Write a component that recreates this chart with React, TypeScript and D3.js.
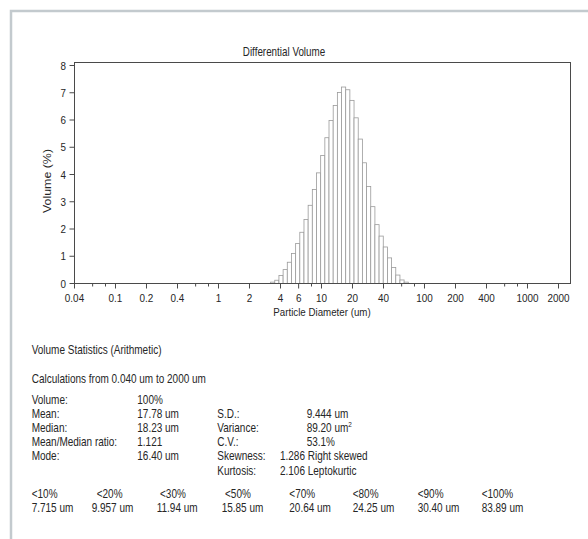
import React from "react";
import * as d3 from "d3";

const width = 588;
const height = 539;

// channel edges (um) of the occupied bins, and volume % per bin
const binEdges = [
  3.206, 3.519, 3.862, 4.241, 4.656, 5.111, 5.611, 6.159, 6.761, 7.421, 8.147,
  8.944, 9.819, 10.78, 11.83, 12.99, 14.26, 15.65, 17.18, 18.86, 20.7, 22.73,
  24.95, 27.39, 30.07, 33.01, 36.24, 39.78, 43.67, 47.94, 52.62, 57.77, 63.41,
  69.61,
];
const volumePct = [
  0.05, 0.12, 0.29, 0.51, 0.78, 1.1, 1.47, 1.88, 2.35, 2.87, 3.45, 4.06, 4.7,
  5.35, 5.98, 6.53, 7.01, 7.21, 7.11, 6.72, 6.08, 5.3, 4.43, 3.56, 2.82, 2.16,
  1.74, 1.34, 0.94, 0.59, 0.31, 0.13, 0.05,
];

const xTicksMajor = [0.04, 0.1, 0.2, 0.4, 1, 2, 4, 6, 10, 20, 40, 100, 200, 400, 1000, 2000];
const xTicksMinor = [0.06, 0.08, 0.6, 0.8, 8, 60, 80, 600, 800];
const yTicks = [0, 1, 2, 3, 4, 5, 6, 7, 8];

const leftLabels = ["Volume:", "Mean:", "Median:", "Mean/Median ratio:", "Mode:"];
const leftValues = ["100%", "17.78 um", "18.23 um", "1.121", "16.40 um"];
const rightLabels = ["S.D.:", "Variance:", "C.V.:", "Skewness:", "Kurtosis:"];
const rightValues = ["9.444 um", "89.20 um", "53.1%", "1.286 Right skewed", "2.106 Leptokurtic"];

const pctLabels = ["<10%", "<20%", "<30%", "<50%", "<70%", "<80%", "<90%", "<100%"];
const pctValues = ["7.715 um", "9.957 um", "11.94 um", "15.85 um", "20.64 um", "24.25 um", "30.40 um", "83.89 um"];
const pctLabelX = [31.7, 96.7, 160, 225, 289.3, 352.7, 417.7, 481.7];
const pctValueX = [31.7, 91.7, 156.7, 221.7, 289.3, 352.7, 417.7, 481.7];

const font = "'Liberation Sans', Arial, sans-serif";
const ink = "#262626";

// the scanned report has narrow lettering, so text is squeezed horizontally
const T = ({ x, y, size = 12.5, sx = 0.8, anchor = "start", children }: any) => (
  <text transform={`translate(${x},${y}) scale(${sx},1)`} fontSize={size} textAnchor={anchor} fill={ink}>
    {children}
  </text>
);

export default function App() {
  const left = 74.5, right = 570.5, top = 62.5, bottom = 283.5;
  const x = d3.scaleLog().domain([0.04, 2000]).range([left, 558.5]);
  const y = d3.scaleLinear().domain([0, 8]).range([bottom, 65.5]);

  const rowY = (i: number) => 403.6 + i * 14.2;

  return (
    <svg width={width} height={height} style={{ position: "absolute", left: 0, top: 0 }} fontFamily={font}>
      <rect x={0} y={0} width={width} height={height} fill="#fff" />
      {/* page border */}
      <path d={`M11,${height + 5} V11 H${width + 5}`} fill="none" stroke="#c3cace" strokeWidth={2.5} />

      <T x={284} y={56} size={12} sx={0.82} anchor="middle">Differential Volume</T>

      {/* bars */}
      <g>
        {volumePct.map((v, i) => (
          <rect key={i} x={x(binEdges[i])} y={y(v)} width={x(binEdges[i + 1]) - x(binEdges[i])}
            height={y(0) - y(v)} fill="#fff" stroke="#9a9a9a" strokeWidth={0.8} />
        ))}
      </g>

      {/* frame */}
      <rect x={left} y={top} width={right - left} height={bottom - top} fill="none" stroke="#4a4a4a" strokeWidth={1} />

      {/* y axis */}
      {yTicks.map((t) => (
        <g key={t}>
          <line x1={left - 5} x2={left} y1={y(t)} y2={y(t)} stroke="#4a4a4a" />
          <T x={66} y={y(t) + 4.2} size={11.6} sx={0.85} anchor="end">{t}</T>
        </g>
      ))}
      <text transform={`translate(51,181) scale(0.82,1) rotate(-90)`} fontSize={12.4} textAnchor="middle" fill={ink}>Volume (%)</text>

      {/* x axis */}
      {xTicksMajor.map((t) => (
        <g key={t}>
          <line x1={x(t)} x2={x(t)} y1={bottom} y2={bottom + 5} stroke="#4a4a4a" />
          <T x={x(t)} y={301.5} size={11.4} sx={0.87} anchor="middle">{String(t)}</T>
        </g>
      ))}
      {xTicksMinor.map((t) => (
        <line key={t} x1={x(t)} x2={x(t)} y1={bottom} y2={bottom + 3} stroke="#4a4a4a" />
      ))}
      <T x={322} y={316} size={11.6} sx={0.84} anchor="middle">Particle Diameter (um)</T>

      {/* statistics */}
      <T x={31.7} y={354.3}>Volume Statistics (Arithmetic)</T>
      <T x={31.7} y={383}>Calculations from 0.040 um to 2000 um</T>
      {leftLabels.map((s, i) => (
        <T key={s} x={31.7} y={rowY(i)}>{s}</T>
      ))}
      {leftValues.map((s, i) => (
        <T key={s} x={137.3} y={rowY(i)}>{s}</T>
      ))}
      {rightLabels.map((s, i) => (
        <T key={s} x={217.3} y={rowY(i + 1)}>{s}</T>
      ))}
      {rightValues.map((s, i) => (
        <T key={s} x={i < 3 ? 306.7 : 280} y={rowY(i + 1)}>
          {s}
          {i === 1 ? <tspan dy={-5} fontSize={8}>2</tspan> : null}
        </T>
      ))}
      {pctLabels.map((s, i) => (
        <T key={s} x={pctLabelX[i]} y={497.6}>{s}</T>
      ))}
      {pctValues.map((s, i) => (
        <T key={s} x={pctValueX[i]} y={512.2}>{s}</T>
      ))}
    </svg>
  );
}
